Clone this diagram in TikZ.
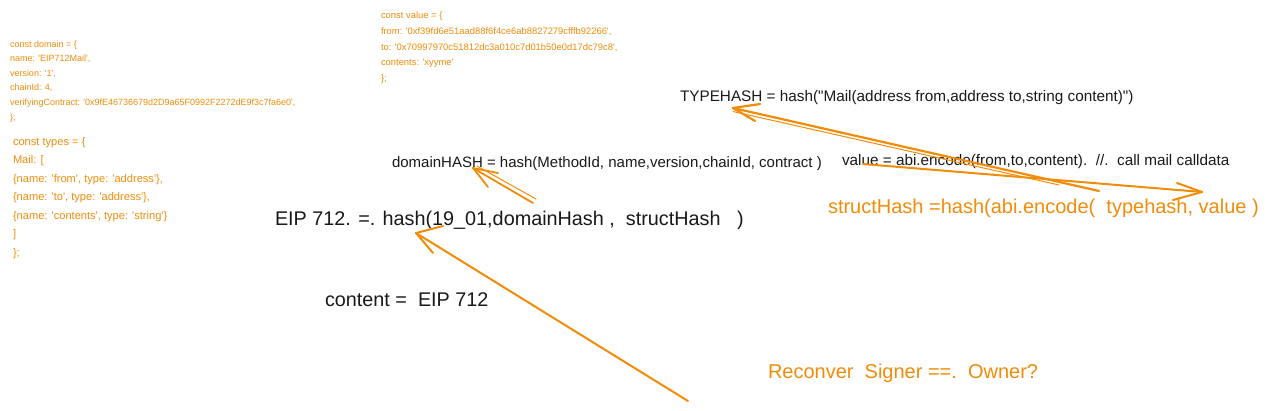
\documentclass[tikz,border=0pt]{standalone}
\usepackage{fontspec}
\newfontfamily\arialf{Liberation Sans}
\definecolor{org}{RGB}{240,140,10}
\definecolor{ink}{RGB}{25,25,25}
\begin{document}
\begin{tikzpicture}[x=1pt,y=-1pt,
  txt/.style={anchor=base west,inner sep=0pt,outer sep=0pt,font=\arialf},
  code/.style={txt,text=org},
  sk/.style={draw=org,line width=2.2pt,line cap=round,line join=round},
  skthin/.style={draw=org,line width=1pt,line cap=round}]
\useasboundingbox (0,0) rectangle (1274,410);
% domain block
\begin{scope}[every node/.style={code,font=\arialf\fontsize{9}{11}\selectfont}]
\node (d1) at (10,47) {const domain = \{};
\node (d2) at (10,61.6) {name: 'EIP712Mail',};
\node (d3) at (10,76.2) {version: '1',};
\node (d4) at (10,90.8) {chainId: 4,};
\node (d5) at (10,105.4) {verifyingContract: '0x9fE46736679d2D9a65F0992F2272dE9f3c7fa6e0',};
\node (d6) at (10,120) {\};};
\end{scope}
% types block
\begin{scope}[every node/.style={code,font=\arialf\fontsize{11.1}{13}\selectfont}]
\node (t1) at (13,145) {const types = \{};
\node (t2) at (13,163.5) {Mail: [};
\node (t3) at (13,182) {\{name: 'from', type: 'address'\},};
\node (t4) at (13,200.5) {\{name: 'to', type: 'address'\},};
\node (t5) at (13,219) {\{name: 'contents', type: 'string'\}};
\node (t6) at (13,237.5) {]};
\node (t7) at (13,256) {\};};
\end{scope}
% value block
\begin{scope}[every node/.style={code,font=\arialf\fontsize{9.4}{11}\selectfont}]
\node (v1) at (381,18.5) {const value = \{};
\node (v2) at (381,34.3) {from: '0xf39fd6e51aad88f6f4ce6ab8827279cfffb92266',};
\node (v3) at (381,50.1) {to: '0x70997970c51812dc3a010c7d01b50e0d17dc79c8',};
\node (v4) at (381,65.9) {contents: 'xyyme'};
\node (v5) at (381,81.7) {\};};
\end{scope}
% main texts
\node[txt,text=ink,font=\arialf\fontsize{15.3}{17}\selectfont] (typeh) at (680,101) {TYPEHASH = hash("Mail(address from,address to,string content)")};
\node[txt,text=ink,font=\arialf\fontsize{15}{17}\selectfont] (domh) at (392,167) {domainHASH = hash(MethodId, name,version,chainId, contract )};
\node[txt,text=ink,font=\arialf\fontsize{15.3}{17}\selectfont] (valh) at (842,165) {value = abi.encode(from,to,content).\ \ //.\ \ call mail calldata};
\node[txt,text=org,font=\arialf\fontsize{20}{22}\selectfont] (struct) at (828,213) {structHash =hash(abi.encode(\ \ typehash, value )};
\node[txt,text=ink,font=\arialf\fontsize{19.8}{22}\selectfont] (eip) at (275,225) {EIP 712. =. hash(19\_01,domainHash ,\ \ structHash\ \ \ )};
\node[txt,text=ink,font=\arialf\fontsize{19.8}{22}\selectfont] (cont) at (325,306) {content =\ \ EIP 712};
\node[txt,text=org,font=\arialf\fontsize{20}{22}\selectfont] (recov) at (768,378) {Reconver\ \ Signer ==.\ \ Owner?};
% arrow coordinates
\coordinate (aT) at (733,108);
\coordinate (aTt) at (1099,191);
\coordinate (aD) at (473,168);
\coordinate (aDt) at (533,203);
\coordinate (aE) at (416,233);
\coordinate (aEt) at (688,401);
\coordinate (aV) at (1202,192);
\coordinate (aVt) at (863,164);
% TYPEHASH arrow (double sketchy stroke)
\draw[sk] (aTt) -- (aT);
\draw[skthin] ([shift={(0,3.5)}]aT) -- ([shift={(-40,-6)}]aTt);
\draw[sk] (aT) -- ++(27,-4);
\draw[sk] (aT) -- ++(22,13);
% domainHASH arrow
\draw[sk,line width=1.8pt] (aDt) -- (aD);
\draw[skthin] ([shift={(4,-2)}]aD) -- ([shift={(3,-4)}]aDt);
\draw[sk,line width=1.8pt] (aD) -- ++(25,5);
\draw[sk,line width=1.8pt] (aD) -- ++(15,19);
% EIP arrow
\draw[sk,line width=2pt] (aEt) -- (aE);
\draw[sk,line width=2pt] (aE) -- ++(27,-7);
\draw[sk,line width=2pt] (aE) -- ++(17,20);
% value arrow
\draw[sk,line width=2pt] (aVt) -- (aV);
\draw[sk,line width=2pt] (aV) -- ++(-25,-9);
\draw[sk,line width=2pt] (aV) -- ++(-29,8);
\end{tikzpicture}
\end{document}
